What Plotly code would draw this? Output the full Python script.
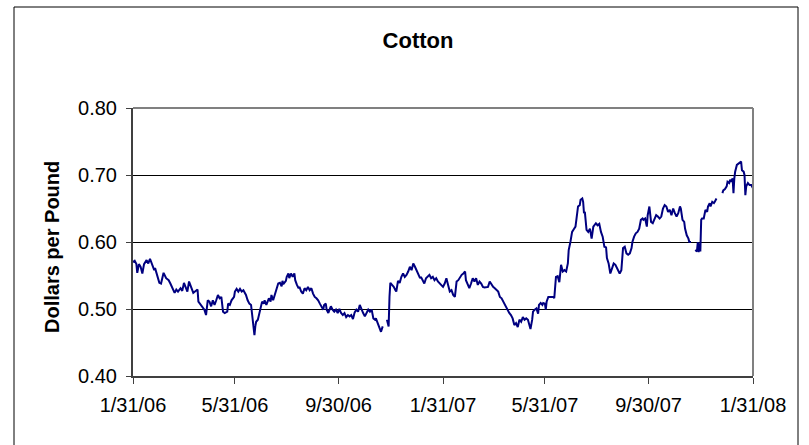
import plotly.graph_objects as go
import pandas as pd

title_text = "Cotton"
y_title = "Dollars per Pound"

tick_dates = ["2006-01-31", "2006-05-31", "2006-09-30", "2007-01-31",
              "2007-05-31", "2007-09-30", "2008-01-31"]
tick_labels = ["1/31/06", "5/31/06", "9/30/06", "1/31/07",
               "5/31/07", "9/30/07", "1/31/08"]
y_ticks = [0.40, 0.50, 0.60, 0.70, 0.80]

dates_2006a = [
    "2006-01-31", "2006-02-02", "2006-02-04", "2006-02-05", "2006-02-07", "2006-02-09", "2006-02-11", "2006-02-13",
    "2006-02-16", "2006-02-18", "2006-02-20", "2006-02-22", "2006-02-25", "2006-02-26", "2006-03-01", "2006-03-03",
    "2006-03-05", "2006-03-08", "2006-03-11", "2006-03-14", "2006-03-16", "2006-03-19", "2006-03-21", "2006-03-23",
    "2006-03-25", "2006-03-28", "2006-03-30", "2006-04-01", "2006-04-03", "2006-04-05", "2006-04-07", "2006-04-09",
    "2006-04-12", "2006-04-14", "2006-04-17", "2006-04-18", "2006-04-21", "2006-04-25", "2006-04-27", "2006-04-29",
    "2006-05-01", "2006-05-03", "2006-05-05", "2006-05-07", "2006-05-09", "2006-05-11", "2006-05-13", "2006-05-15",
    "2006-05-17", "2006-05-19", "2006-05-22", "2006-05-23", "2006-05-25", "2006-05-27", "2006-05-30", "2006-05-31",
]
prices_2006a = [
    0.570, 0.572, 0.567, 0.554, 0.567, 0.563, 0.553, 0.567,
    0.573, 0.568, 0.575, 0.568, 0.558, 0.561, 0.548, 0.539,
    0.538, 0.554, 0.546, 0.543, 0.538, 0.531, 0.524, 0.529,
    0.526, 0.531, 0.527, 0.539, 0.531, 0.526, 0.541, 0.533,
    0.524, 0.526, 0.529, 0.511, 0.506, 0.499, 0.491, 0.513,
    0.511, 0.504, 0.513, 0.506, 0.513, 0.521, 0.516, 0.518,
    0.496, 0.494, 0.496, 0.508, 0.506, 0.513, 0.518, 0.526,
]

dates_2006b = [
    "2006-06-02", "2006-06-04", "2006-06-06", "2006-06-08", "2006-06-10", "2006-06-11", "2006-06-13", "2006-06-15",
    "2006-06-17", "2006-06-19", "2006-06-20", "2006-06-22", "2006-06-23", "2006-06-24", "2006-06-25", "2006-06-27",
    "2006-06-28", "2006-06-30", "2006-07-02", "2006-07-04", "2006-07-05", "2006-07-07", "2006-07-09", "2006-07-10",
    "2006-07-12", "2006-07-13", "2006-07-15", "2006-07-17", "2006-07-18", "2006-07-20", "2006-07-21", "2006-07-23",
    "2006-07-25", "2006-07-26", "2006-07-27", "2006-07-30", "2006-07-31", "2006-08-02", "2006-08-03", "2006-08-05",
    "2006-08-07", "2006-08-09", "2006-08-10", "2006-08-12", "2006-08-14", "2006-08-15", "2006-08-17", "2006-08-19",
    "2006-08-21", "2006-08-23", "2006-08-25", "2006-08-27", "2006-08-29", "2006-08-31", "2006-09-02", "2006-09-04",
    "2006-09-06", "2006-09-08", "2006-09-10", "2006-09-12", "2006-09-13", "2006-09-15", "2006-09-16", "2006-09-18",
    "2006-09-20", "2006-09-21", "2006-09-23", "2006-09-25", "2006-09-27", "2006-09-29", "2006-10-01", "2006-10-03",
    "2006-10-05",
]
prices_2006b = [
    0.530, 0.526, 0.530, 0.526, 0.528, 0.526, 0.521, 0.513,
    0.508, 0.506, 0.496, 0.476, 0.461, 0.474, 0.481, 0.484,
    0.489, 0.503, 0.511, 0.508, 0.513, 0.506, 0.513, 0.516,
    0.511, 0.521, 0.513, 0.521, 0.528, 0.536, 0.538, 0.539,
    0.534, 0.542, 0.537, 0.542, 0.548, 0.553, 0.546, 0.553,
    0.548, 0.553, 0.543, 0.536, 0.531, 0.533, 0.526, 0.523,
    0.531, 0.528, 0.533, 0.528, 0.531, 0.523, 0.518, 0.516,
    0.513, 0.508, 0.503, 0.499, 0.506, 0.508, 0.499, 0.494,
    0.501, 0.504, 0.499, 0.496, 0.499, 0.494, 0.500, 0.494,
    0.491,
]

dates_2006c = [
    "2006-10-07", "2006-10-09", "2006-10-11", "2006-10-13", "2006-10-15", "2006-10-17", "2006-10-18", "2006-10-19",
    "2006-10-21", "2006-10-23", "2006-10-25", "2006-10-27", "2006-10-29", "2006-10-31", "2006-11-02", "2006-11-04",
    "2006-11-06", "2006-11-08", "2006-11-10", "2006-11-12", "2006-11-13", "2006-11-15", "2006-11-17", "2006-11-19",
    "2006-11-21", "2006-11-24", "2006-11-26", "2006-11-28", "2006-11-29", "2006-11-30", "2006-12-02", "2006-12-04",
    "2006-12-06", "2006-12-07", "2006-12-09", "2006-12-11", "2006-12-13", "2006-12-15", "2006-12-17", "2006-12-19",
    "2006-12-21", "2006-12-23", "2006-12-25", "2006-12-27", "2006-12-29", "2006-12-31",
]
prices_2006c = [
    0.494, 0.488, 0.491, 0.489, 0.491, 0.485, 0.491, 0.495,
    0.499, 0.496, 0.506, 0.499, 0.494, 0.489, 0.494, 0.499,
    0.496, 0.499, 0.486, 0.484, 0.486, 0.479, 0.474, 0.466,
    0.474, None, 0.484, 0.474, 0.518, 0.539, 0.536, 0.533,
    0.528, 0.526, 0.542, 0.539, 0.548, 0.553, 0.548, 0.551,
    0.556, 0.563, 0.558, 0.568, 0.563, 0.558,
]

dates_2007a = [
    "2007-01-02", "2007-01-04", "2007-01-05", "2007-01-07", "2007-01-09", "2007-01-11", "2007-01-13", "2007-01-15",
    "2007-01-17", "2007-01-19", "2007-01-21", "2007-01-23", "2007-01-25", "2007-01-27", "2007-01-29", "2007-01-31",
    "2007-02-02", "2007-02-04", "2007-02-06", "2007-02-08", "2007-02-10", "2007-02-12", "2007-02-14", "2007-02-16",
    "2007-02-18", "2007-02-20", "2007-02-22", "2007-02-24", "2007-02-26", "2007-02-27", "2007-03-01", "2007-03-03",
    "2007-03-05", "2007-03-07", "2007-03-09", "2007-03-11", "2007-03-13", "2007-03-15", "2007-03-17", "2007-03-19",
    "2007-03-21", "2007-03-23", "2007-03-25", "2007-03-27", "2007-03-29", "2007-03-31", "2007-04-02", "2007-04-04",
    "2007-04-06", "2007-04-08", "2007-04-10", "2007-04-12", "2007-04-14", "2007-04-16", "2007-04-18", "2007-04-19",
    "2007-04-21", "2007-04-23", "2007-04-25", "2007-04-27", "2007-04-29", "2007-05-01", "2007-05-03", "2007-05-05",
    "2007-05-07", "2007-05-09", "2007-05-11", "2007-05-13", "2007-05-14", "2007-05-16", "2007-05-17", "2007-05-19",
    "2007-05-21", "2007-05-23", "2007-05-24", "2007-05-26", "2007-05-28", "2007-05-29",
]
prices_2007a = [
    0.553, 0.546, 0.548, 0.543, 0.538, 0.546, 0.548, 0.551,
    0.546, 0.548, 0.543, 0.546, 0.541, 0.538, 0.536, 0.533,
    0.538, 0.546, 0.536, 0.526, 0.528, 0.521, 0.518, 0.541,
    0.543, 0.548, 0.551, 0.553, 0.556, 0.543, 0.536, 0.531,
    0.538, 0.546, 0.541, 0.546, 0.536, 0.541, 0.538, 0.533,
    0.532, 0.533, 0.533, 0.541, 0.536, 0.533, 0.531, 0.528,
    0.526, 0.518, 0.516, 0.511, 0.506, 0.501, 0.496, 0.494,
    0.491, 0.486, 0.476, 0.479, 0.473, 0.484, 0.481, 0.488,
    0.484, 0.486, 0.484, 0.476, 0.470, 0.484, 0.496, 0.499,
    0.501, 0.493, 0.506, 0.509, 0.506, 0.509,
]

dates_2007b = [
    "2007-05-31", "2007-06-01", "2007-06-02", "2007-06-04", "2007-06-06", "2007-06-08", "2007-06-10", "2007-06-11",
    "2007-06-13", "2007-06-15", "2007-06-17", "2007-06-19", "2007-06-21", "2007-06-23", "2007-06-25", "2007-06-27",
    "2007-06-28", "2007-06-30", "2007-07-02", "2007-07-04", "2007-07-06", "2007-07-07", "2007-07-09", "2007-07-11",
    "2007-07-12", "2007-07-14", "2007-07-15", "2007-07-16", "2007-07-17", "2007-07-19", "2007-07-21", "2007-07-23",
    "2007-07-25", "2007-07-27", "2007-07-28", "2007-07-30", "2007-08-01", "2007-08-03", "2007-08-05", "2007-08-07",
    "2007-08-09", "2007-08-11", "2007-08-12", "2007-08-14", "2007-08-16", "2007-08-18", "2007-08-20", "2007-08-22",
    "2007-08-23", "2007-08-25", "2007-08-27", "2007-08-29", "2007-08-30", "2007-08-31", "2007-09-02", "2007-09-04",
    "2007-09-06", "2007-09-08", "2007-09-10", "2007-09-11", "2007-09-13", "2007-09-15", "2007-09-17", "2007-09-19",
    "2007-09-21", "2007-09-23", "2007-09-24", "2007-09-26", "2007-09-28", "2007-09-29", "2007-10-01", "2007-10-02",
]
prices_2007b = [
    0.508, 0.499, 0.511, 0.518, 0.518, 0.518, 0.518, 0.516,
    0.548, 0.549, 0.540, 0.566, 0.556, 0.558, 0.556, 0.568,
    0.588, 0.600, 0.615, 0.619, 0.623, 0.633, 0.653, 0.655,
    0.663, 0.665, 0.660, 0.643, 0.645, 0.618, 0.615, 0.620,
    0.605, 0.623, 0.625, 0.628, 0.625, 0.627, 0.615, 0.608,
    0.593, 0.592, 0.576, 0.568, 0.553, 0.561, 0.568, 0.566,
    0.563, 0.558, 0.553, 0.558, 0.578, 0.591, 0.593, 0.583,
    0.581, 0.583, 0.591, 0.600, 0.608, 0.613, 0.615, 0.620,
    0.633, 0.635, 0.633, 0.635, 0.623, 0.640, 0.653, 0.643,
]

dates_2007c = [
    "2007-10-03", "2007-10-05", "2007-10-07", "2007-10-09", "2007-10-11", "2007-10-13", "2007-10-15", "2007-10-17",
    "2007-10-19", "2007-10-21", "2007-10-23", "2007-10-25", "2007-10-27", "2007-10-29", "2007-10-31", "2007-11-02",
    "2007-11-04", "2007-11-06", "2007-11-07", "2007-11-09", "2007-11-11", "2007-11-12", "2007-11-14", "2007-11-16",
    "2007-11-17", "2007-11-19", "2007-11-21", "2007-11-24", "2007-11-26", "2007-11-27", "2007-11-28", "2007-11-29",
    "2007-11-30", "2007-12-01", "2007-12-02", "2007-12-04", "2007-12-06", "2007-12-08", "2007-12-09", "2007-12-11",
    "2007-12-12", "2007-12-14", "2007-12-16", "2007-12-17", "2007-12-19", "2007-12-21", "2007-12-26", "2007-12-27",
    "2007-12-29", "2007-12-31",
]
prices_2007c = [
    0.630, 0.628, 0.635, 0.640, 0.638, 0.635, 0.638, 0.650,
    0.655, 0.653, 0.645, 0.648, 0.640, 0.650, 0.643, 0.638,
    0.643, 0.653, 0.650, 0.633, 0.630, 0.620, 0.610, 0.605,
    0.600, 0.600, None, 0.588, 0.586, 0.600, 0.585, 0.598,
    0.586, 0.633, 0.635, 0.635, 0.648, 0.645, 0.653, 0.658,
    0.653, 0.660, 0.658, 0.660, 0.665, None, 0.673, 0.677,
    0.679, 0.683,
]

dates_2008 = [
    "2008-01-01", "2008-01-03", "2008-01-04", "2008-01-05", "2008-01-07", "2008-01-08", "2008-01-09", "2008-01-10",
    "2008-01-12", "2008-01-14", "2008-01-16", "2008-01-17", "2008-01-18", "2008-01-20", "2008-01-21", "2008-01-22",
    "2008-01-23", "2008-01-25", "2008-01-27", "2008-01-29", "2008-01-31",
]
prices_2008 = [
    0.690, 0.688, 0.693, 0.690, 0.695, 0.673, 0.695, 0.705,
    0.715, 0.717, 0.718, 0.720, 0.707, 0.705, 0.700, 0.670,
    0.683, 0.688, 0.685, 0.685, 0.680,
]

dates = dates_2006a + dates_2006b + dates_2006c + dates_2007a + dates_2007b + dates_2007c + dates_2008
prices = prices_2006a + prices_2006b + prices_2006c + prices_2007a + prices_2007b + prices_2007c + prices_2008
assert len(dates) == len(prices)

FONT = "Liberation Sans, Arial, sans-serif"

fig = go.Figure()
fig.add_trace(go.Scatter(
    x=pd.to_datetime(dates), y=prices, mode="lines",
    line=dict(color="#000080", width=2), connectgaps=False,
    showlegend=False, hoverinfo="skip",
))

W, H = 809, 445
L, R, T, B = 133, 56, 108, 69
pw, ph = W - L - R, H - T - B

def px_x(x):
    return (x - L) / pw

def px_y(y):
    return (H - B - y) / ph

fig.update_layout(
    width=W, height=H,
    margin=dict(l=L, r=R, t=T, b=B),
    paper_bgcolor="white", plot_bgcolor="white",
    font=dict(family=FONT, size=20, color="black"),
    title=dict(text="<b>" + title_text + "</b>", x=418 / W, xref="container", xanchor="center",
               y=1 - 40 / H, yref="container", yanchor="middle",
               font=dict(family=FONT, size=22, color="black")),
    xaxis=dict(
        type="date", range=[tick_dates[0], tick_dates[-1]],
        tickmode="array", tickvals=tick_dates, ticktext=tick_labels,
        ticks="outside", ticklen=6, tickwidth=1, tickcolor="#404040",
        showline=True, linecolor="#404040", linewidth=2,
        showgrid=False, zeroline=False, ticklabelstandoff=4,
        tickfont=dict(family=FONT, size=20, color="black"),
    ),
    yaxis=dict(
        range=[0.40, 0.80], tickmode="array", tickvals=y_ticks,
        ticktext=["%.2f" % v for v in y_ticks],
        ticks="outside", ticklen=5, tickwidth=1, tickcolor="#404040",
        showline=True, linecolor="#404040", linewidth=2,
        showgrid=True, gridcolor="#000000", gridwidth=1, zeroline=False,
        ticklabelstandoff=5,
        tickfont=dict(family=FONT, size=20, color="black"),
    ),
    annotations=[dict(
        text="<b>" + y_title + "</b>", textangle=-90,
        xref="paper", yref="paper", x=px_x(52), y=px_y(247),
        xanchor="center", yanchor="middle", showarrow=False,
        font=dict(family=FONT, size=20, color="black"),
    )],
    shapes=[
        dict(type="line", xref="paper", yref="paper", x0=0, x1=1, y0=1, y1=1,
             line=dict(color="#808080", width=2), layer="above"),
        dict(type="line", xref="paper", yref="paper", x0=1, x1=1, y0=0, y1=1,
             line=dict(color="#808080", width=2), layer="above"),
        dict(type="rect", xref="paper", yref="paper",
             x0=px_x(14), x1=px_x(798), y0=px_y(7), y1=px_y(452),
             line=dict(color="black", width=1), fillcolor="rgba(0,0,0,0)", layer="above"),
    ],
)

fig.write_html("out.html", config={"displayModeBar": False})

# remove the browser's default page margin so the figure sits at the window origin
with open("out.html", "r", encoding="utf-8") as fh:
    html = fh.read()
html = html.replace("<head>", "<head><style>html,body{margin:0;padding:0;}</style>", 1)
with open("out.html", "w", encoding="utf-8") as fh:
    fh.write(html)
